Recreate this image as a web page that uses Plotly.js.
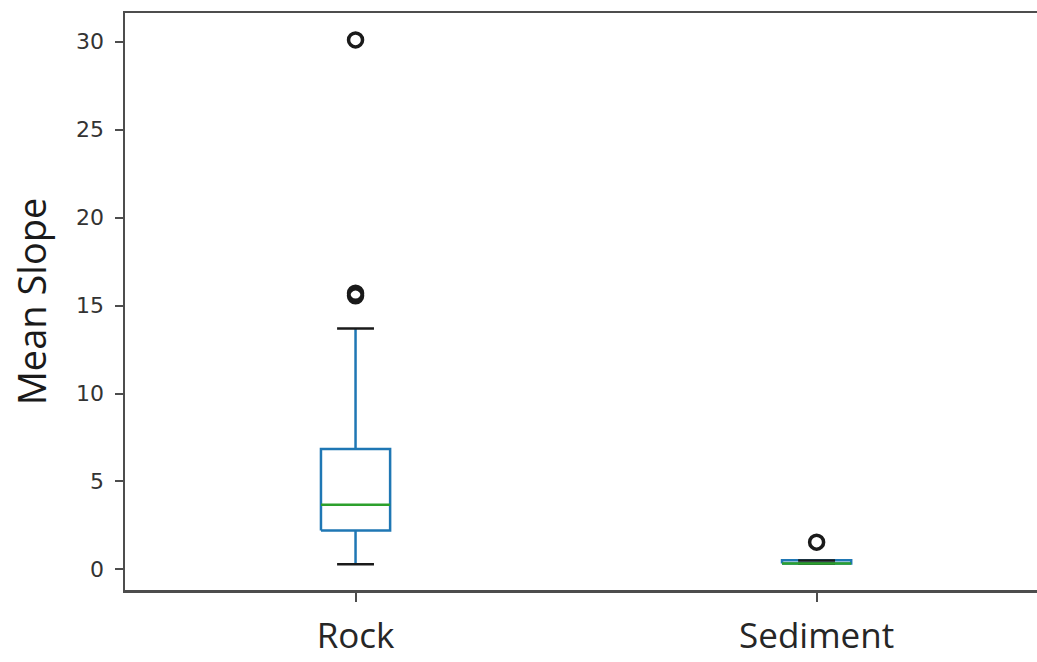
<!DOCTYPE html>
<html>
<head>
<meta charset="utf-8">
<script src="https://cdn.plot.ly/plotly-3.0.1.min.js"></script>
<style>
  html, body { margin: 0; padding: 0; background: #ffffff; }
  #chart { width: 1037px; height: 662px; }
</style>
</head>
<body>
<div id="chart"></div>
<script>
// Box-plot summary of mean slope by substrate type
const categories   = ['Rock', 'Sediment'];
const positions    = [1, 2];
const lowerWhisker = [0.30, 0.33];
const q1           = [2.21, 0.33];
const median       = [3.68, 0.34];
const q3           = [6.85, 0.52];
const upperWhisker = [13.70, 0.50];
const outliers     = [[15.55, 15.70, 30.10], [1.55]];

const BOX_W = 0.15;   // box width in x-units
const CAP_W = 0.08;   // whisker cap width in x-units

function segs(builder) {
  const xs = [], ys = [];
  positions.forEach((p, i) => {
    builder(p, i).forEach(seg => {
      xs.push(seg[0][0], seg[1][0], null);
      ys.push(seg[0][1], seg[1][1], null);
    });
  });
  return { x: xs, y: ys };
}

const boxPts = { x: [], y: [] };
positions.forEach((p, i) => {
  const l = p - BOX_W / 2, r = p + BOX_W / 2;
  boxPts.x.push(l, r, r, l, l, null);
  boxPts.y.push(q1[i], q1[i], q3[i], q3[i], q1[i], null);
});

const whiskers = segs((p, i) => [
  [[p, q1[i]], [p, lowerWhisker[i]]],
  [[p, q3[i]], [p, upperWhisker[i]]]
]);
const caps = segs((p, i) => [
  [[p - CAP_W / 2, lowerWhisker[i]], [p + CAP_W / 2, lowerWhisker[i]]],
  [[p - CAP_W / 2, upperWhisker[i]], [p + CAP_W / 2, upperWhisker[i]]]
]);
const medians = segs((p, i) => [
  [[p - BOX_W / 2, median[i]], [p + BOX_W / 2, median[i]]]
]);

const flierX = [], flierY = [];
positions.forEach((p, i) => outliers[i].forEach(v => { flierX.push(p); flierY.push(v); }));

const blue = '#1f77b4', green = '#2ca02c', black = '#1a1a1a';
const common = { mode: 'lines', hoverinfo: 'skip', showlegend: false, connectgaps: false };

const traces = [
  Object.assign({}, common, { x: boxPts.x, y: boxPts.y, line: { color: blue, width: 2.5 } }),
  Object.assign({}, common, { x: whiskers.x, y: whiskers.y, line: { color: blue, width: 2.5 } }),
  Object.assign({}, common, { x: caps.x, y: caps.y, line: { color: black, width: 2.5 } }),
  Object.assign({}, common, { x: medians.x, y: medians.y, line: { color: green, width: 2.5 } }),
  {
    x: flierX, y: flierY, mode: 'markers', showlegend: false, hoverinfo: 'skip',
    marker: { symbol: 'circle-open', size: 14, color: black, line: { color: black, width: 3.5 } }
  }
];

const layout = {
  width: 1037,
  height: 662,
  margin: { l: 125, r: 0, t: 13, b: 72 },
  paper_bgcolor: '#ffffff',
  plot_bgcolor: '#ffffff',
  showlegend: false,
  xaxis: {
    range: [0.5, 2.478],
    tickvals: positions,
    ticktext: categories,
    showgrid: false,
    zeroline: false,
    showline: true,
    mirror: true,
    linecolor: '#4d4d4d',
    linewidth: 2.5,
    ticks: 'outside',
    ticklen: 9,
    tickwidth: 2,
    tickcolor: '#4d4d4d',
    ticklabelstandoff: 4,
    tickfont: { family: 'Open Sans, sans-serif', size: 35, color: '#262626' },
    fixedrange: true
  },
  yaxis: {
    range: [-1.17, 31.63],
    tickvals: [0, 5, 10, 15, 20, 25, 30],
    showgrid: false,
    zeroline: false,
    showline: true,
    mirror: false,
    linecolor: '#4d4d4d',
    linewidth: 2.5,
    ticks: 'outside',
    ticklen: 8,
    tickwidth: 2,
    tickcolor: '#4d4d4d',
    ticklabelstandoff: 6,
    tickfont: { family: 'DejaVu Sans, sans-serif', size: 22, color: '#333333' },
    title: {
      text: 'Mean Slope',
      standoff: 18,
      font: { family: 'Open Sans, sans-serif', size: 38, color: '#1a1a1a' }
    },
    automargin: false,
    fixedrange: true
  }
};

Plotly.newPlot('chart', traces, layout, { staticPlot: true, displayModeBar: false });
</script>
</body>
</html>
